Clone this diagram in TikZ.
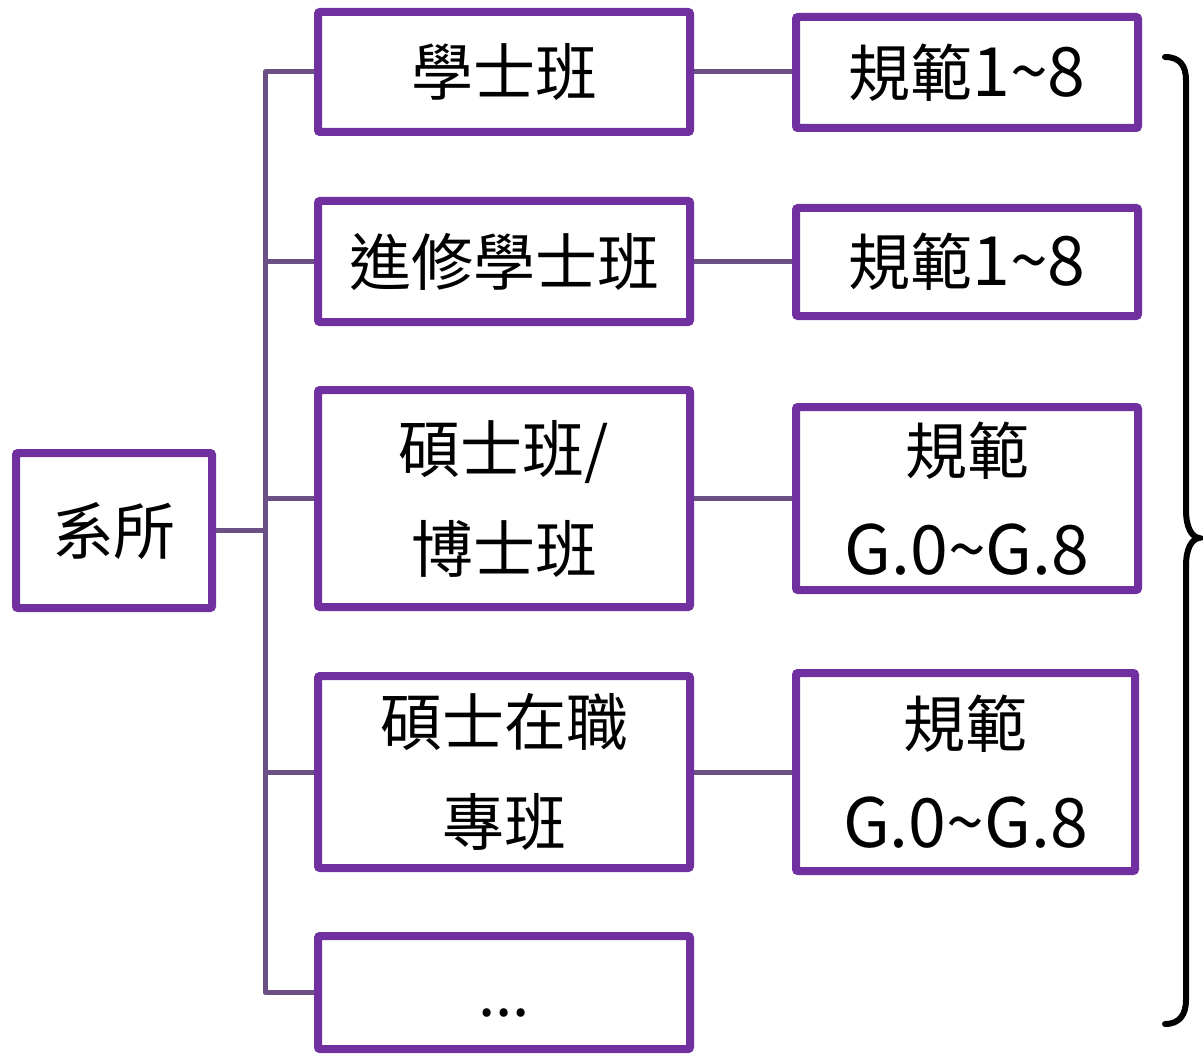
\documentclass[tikz,border=0pt]{standalone}
\usepackage{fontspec}
\setmainfont{Noto Sans CJK TC}
\usetikzlibrary{shadows}
\definecolor{boxpurple}{RGB}{112,48,160}
\definecolor{linkpurple}{RGB}{107,80,134}
\newcommand{\latinpart}[1]{{\fontsize{68}{100}\selectfont #1}}
\tikzset{
  box/.style={draw=boxpurple, line width=8pt, fill=white, rounded corners=2pt,
    inner sep=0pt, align=center, font=\fontsize{62}{100}\selectfont,
    drop shadow={shadow xshift=2pt, shadow yshift=-3pt, opacity=0.25, fill=black}},
  dotstext/.style={inner sep=0pt, anchor=base, font=\fontsize{62}{100}\selectfont},
  link/.style={draw=linkpurple, line width=5pt, line join=round},
  bracestyle/.style={draw=black, line width=6pt, line cap=round}
}
\begin{document}
\begin{tikzpicture}[x=1pt, y=-1pt]
\useasboundingbox (0,0) rectangle (1203,1054);
% left box
\node[box, minimum width=196pt, minimum height=155pt] (s) at (114,530.5) {系所};
% column 1
\node[box, minimum width=372pt, minimum height=120pt] (b1) at (504,72) {學士班};
\node[box, minimum width=372pt, minimum height=121pt] (b2) at (504,261.5) {進修學士班};
\node[box, minimum width=372pt, minimum height=217pt] (b3) at (504,498.5) {碩士班/\\博士班};
\node[box, minimum width=372pt, minimum height=192pt] (b4) at (504,772) {碩士在職\\專班};
\node[box, minimum width=372pt, minimum height=113pt] (b5) at (504,992.5) {};
\node[dotstext] (dots) at (504,1016) {...};
% column 2
\node[box, minimum width=342pt, minimum height=111pt] (c1) at (967,72.5) {規範\latinpart{1\char`~8}};
\node[box, minimum width=342pt, minimum height=108pt] (c2) at (967,262) {規範\latinpart{1\char`~8}};
\node[box, minimum width=342pt, minimum height=183pt] (c3) at (967,498.5) {規範\\\latinpart{G.0\char`~G.8}};
\node[box, minimum width=339pt, minimum height=198pt] (c4) at (965.5,772) {規範\\\latinpart{G.0\char`~G.8}};
% trunk
\coordinate (tk) at (265,530.5);
\draw[link] (s.east) -- (s.east -| tk);
\draw[link] (b1.west) -- (b1.west -| tk) -- (b5.west -| tk) -- (b5.west);
\draw[link] (b2.west -| tk) -- (b2.west);
\draw[link] (b3.west -| tk) -- (b3.west);
\draw[link] (b4.west -| tk) -- (b4.west);
% right links
\draw[link] (b1.east) -- (b1.east -| c1.west);
\draw[link] (b2.east) -- (b2.east -| c2.west);
\draw[link] (b3.east) -- (b3.east -| c3.west);
\draw[link] (b4.east) -- (b4.east -| c4.west);
% brace
\draw[bracestyle] (1165,57) .. controls (1180,57) and (1186,66) .. (1186,80)
  -- (1186,510) .. controls (1186,528) and (1192,537) .. (1199,538)
  .. controls (1192,539) and (1186,548) .. (1186,566)
  -- (1186,1000) .. controls (1186,1014) and (1180,1024) .. (1165,1024);
\end{tikzpicture}
\end{document}
